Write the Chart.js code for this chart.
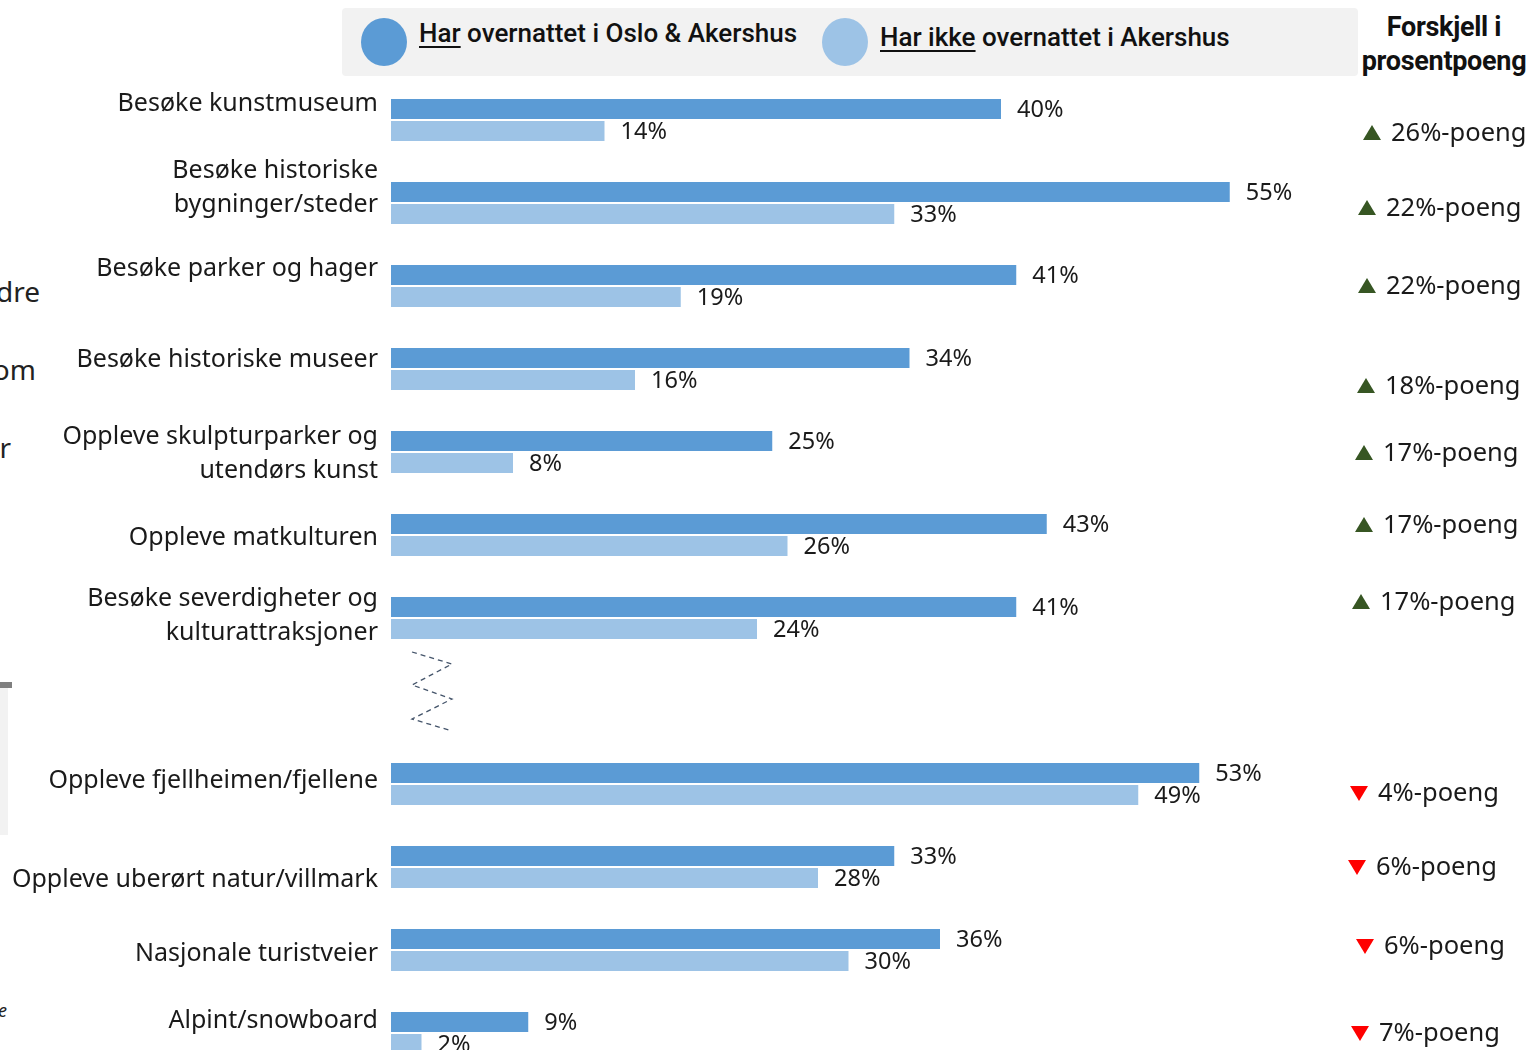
<!DOCTYPE html>
<html lang="no">
<head>
  <meta charset="UTF-8">
  <title>Forskjell i aktiviteter</title>
  <script src="https://cdn.jsdelivr.net/npm/chart.js@4.4.1/dist/chart.umd.min.js"></script>
  <style>
    body {
      margin: 0;
      width: 1533px;
      height: 1050px;
      overflow: hidden;
      background: #fff;
      font-family: 'Noto Sans', sans-serif;
      color: #1a1a1a;
      position: relative;
    }
    #wrap {
      position: absolute;
      left: 0;
      top: 0;
      width: 1533px;
      height: 1080px;
    }
    #legend {
      position: absolute;
      left: 342px;
      top: 8px;
      width: 1016px;
      height: 68px;
      background: #f2f2f2;
      border-radius: 4px;
      font-family: Roboto, sans-serif;
      font-weight: 500;
      font-size: 26px;
      color: #111;
    }
    .item {
      position: absolute;
      display: flex;
      align-items: center;
      white-space: nowrap;
    }
    .dot {
      width: 46px;
      height: 48px;
      border-radius: 50%;
      margin-right: 12px;
    }
    .item u { text-decoration-thickness: 2px; text-underline-offset: 4px; }
    #header {
      position: absolute;
      left: 1346px;
      top: 10px;
      width: 196px;
      text-align: center;
      font-family: Roboto, sans-serif;
      font-weight: 700;
      font-size: 27px;
      line-height: 34px;
      color: #111;
      letter-spacing: -0.3px;
    }
    .cut {
      position: absolute;
      font-size: 28px;
      color: #222;
      white-space: nowrap;
      text-align: right;
    }
  </style>
</head>
<body>
  <!-- rester fra tilstøtende lysbilde, kuttet i venstre kant -->
  <div class="cut" style="right:1493px; top:272px;">andre</div>
  <div class="cut" style="right:1497px; top:350px;">som</div>
  <div class="cut" style="right:1522px; top:428px;">er</div>
  <div style="position:absolute; left:0; top:682px; width:12px; height:6px; background:#7f7f7f;"></div>
  <div style="position:absolute; left:0; top:688px; width:8px; height:147px; background:#f2f2f2;"></div>
  <div class="cut" style="right:1526px; top:998px; font-size:18px; font-style:italic;">e</div>

  <div id="legend">
    <div class="item" style="left:19px; top:10px;">
      <div class="dot" style="background:#5b9bd5;"></div>
      <span style="position:relative; top:-9px;"><u>Har</u> overnattet i Oslo &amp; Akershus</span>
    </div>
    <div class="item" style="left:480px; top:10px;">
      <div class="dot" style="background:#9dc3e6;"></div>
      <span style="position:relative; top:-5px;"><u>Har ikke</u> overnattet i Akershus</span>
    </div>
  </div>

  <div id="header">Forskjell i<br>prosentpoeng</div>

  <div id="wrap">
    <canvas id="chart" width="1533" height="1080"></canvas>
  </div>

  <script>
    const categories = [
      'Besøke kunstmuseum',
      ['Besøke historiske', 'bygninger/steder'],
      'Besøke parker og hager',
      'Besøke historiske museer',
      ['Oppleve skulpturparker og', 'utendørs kunst'],
      'Oppleve matkulturen',
      ['Besøke severdigheter og', 'kulturattraksjoner'],
      '',
      'Oppleve fjellheimen/fjellene',
      'Oppleve uberørt natur/villmark',
      'Nasjonale turistveier',
      'Alpint/snowboard'
    ];
    const overnattet = [40, 55, 41, 34, 25, 43, 41, null, 53, 33, 36, 9];
    const ikkeOvernattet = [14, 33, 19, 16, 8, 26, 24, null, 49, 28, 30, 2];
    const diffPoeng = [26, 22, 22, 18, 17, 17, 17, null, -4, -6, -6, -7];

    // small offsets of the text boxes, as placed in the original slide
    const labelNudge = [-16, -15, -17, -9, 2, 3, -2, 0, -3, 13, 4, -12];
    const diffNudge = [13, 5, 0, 17, 1, -10, -16, 0, 9, 0, -4, 0];
    const diffShift = [8, 3, 3, 2, 0, 0, -3, 0, -5, -7, 1, -4];

    const overlay = {
      id: 'overlay',
      afterDatasetsDraw(chart) {
        const { ctx, scales: { x, y } } = chart;
        ctx.save();
        ctx.textBaseline = 'middle';
        ctx.fillStyle = '#1a1a1a';

        // category labels
        ctx.font = '25px "Noto Sans"';
        ctx.textAlign = 'right';
        categories.forEach((c, i) => {
          const lines = Array.isArray(c) ? c : [c];
          const cy = y.getPixelForValue(i) + labelNudge[i];
          lines.forEach((l, k) => {
            ctx.fillText(l, 378, cy + (k - (lines.length - 1) / 2) * 34);
          });
        });

        // value labels
        ctx.font = '23.5px "Noto Sans"';
        ctx.textAlign = 'left';
        chart.data.datasets.forEach((ds, di) => {
          chart.getDatasetMeta(di).data.forEach((bar, i) => {
            const v = ds.data[i];
            if (v == null) return;
            ctx.fillText(v + '%', bar.x + 16, bar.y + 1);
          });
        });

        // difference column
        ctx.font = '25.5px "Noto Sans"';
        diffPoeng.forEach((d, i) => {
          if (d == null) return;
          const cy = y.getPixelForValue(i) + diffNudge[i];
          const tx = 1355 + diffShift[i];
          ctx.beginPath();
          if (d > 0) {
            ctx.fillStyle = '#375623';
            ctx.moveTo(tx, cy + 7);
            ctx.lineTo(tx + 18, cy + 7);
            ctx.lineTo(tx + 9, cy - 8);
          } else {
            ctx.fillStyle = '#ff0000';
            ctx.moveTo(tx, cy - 7);
            ctx.lineTo(tx + 18, cy - 7);
            ctx.lineTo(tx + 9, cy + 8);
          }
          ctx.closePath();
          ctx.fill();
          ctx.fillStyle = '#1a1a1a';
          ctx.fillText(Math.abs(d) + '%-poeng', tx + 28, cy + 1);
        });

        // zigzag break marker in the empty slot
        const gy = y.getPixelForValue(7);
        ctx.strokeStyle = '#44546a';
        ctx.lineWidth = 1.3;
        ctx.setLineDash([5, 4]);
        ctx.beginPath();
        ctx.moveTo(412, gy - 49);
        ctx.lineTo(452, gy - 37);
        ctx.lineTo(412, gy - 16);
        ctx.lineTo(452, gy - 2);
        ctx.lineTo(412, gy + 18);
        ctx.lineTo(452, gy + 30);
        ctx.stroke();
        ctx.restore();
      }
    };

    new Chart(document.getElementById('chart'), {
      type: 'bar',
      data: {
        labels: categories,
        datasets: [
          {
            label: 'Har overnattet i Oslo & Akershus',
            data: overnattet,
            backgroundColor: '#5b9bd5'
          },
          {
            label: 'Har ikke overnattet i Akershus',
            data: ikkeOvernattet,
            backgroundColor: '#9dc3e6'
          }
        ]
      },
      options: {
        indexAxis: 'y',
        responsive: false,
        devicePixelRatio: 1,
        animation: false,
        categoryPercentage: 0.53,
        barPercentage: 0.909,
        layout: {
          padding: { top: 78.5, bottom: 5.5, left: 0, right: 227 }
        },
        scales: {
          x: {
            display: false,
            min: 0,
            max: 60
          },
          y: {
            grid: { display: false },
            border: { display: false },
            ticks: { display: false },
            afterFit(scale) { scale.width = 391; }
          }
        },
        plugins: {
          legend: { display: false },
          tooltip: { enabled: false }
        }
      },
      plugins: [overlay]
    });
  </script>
</body>
</html>
